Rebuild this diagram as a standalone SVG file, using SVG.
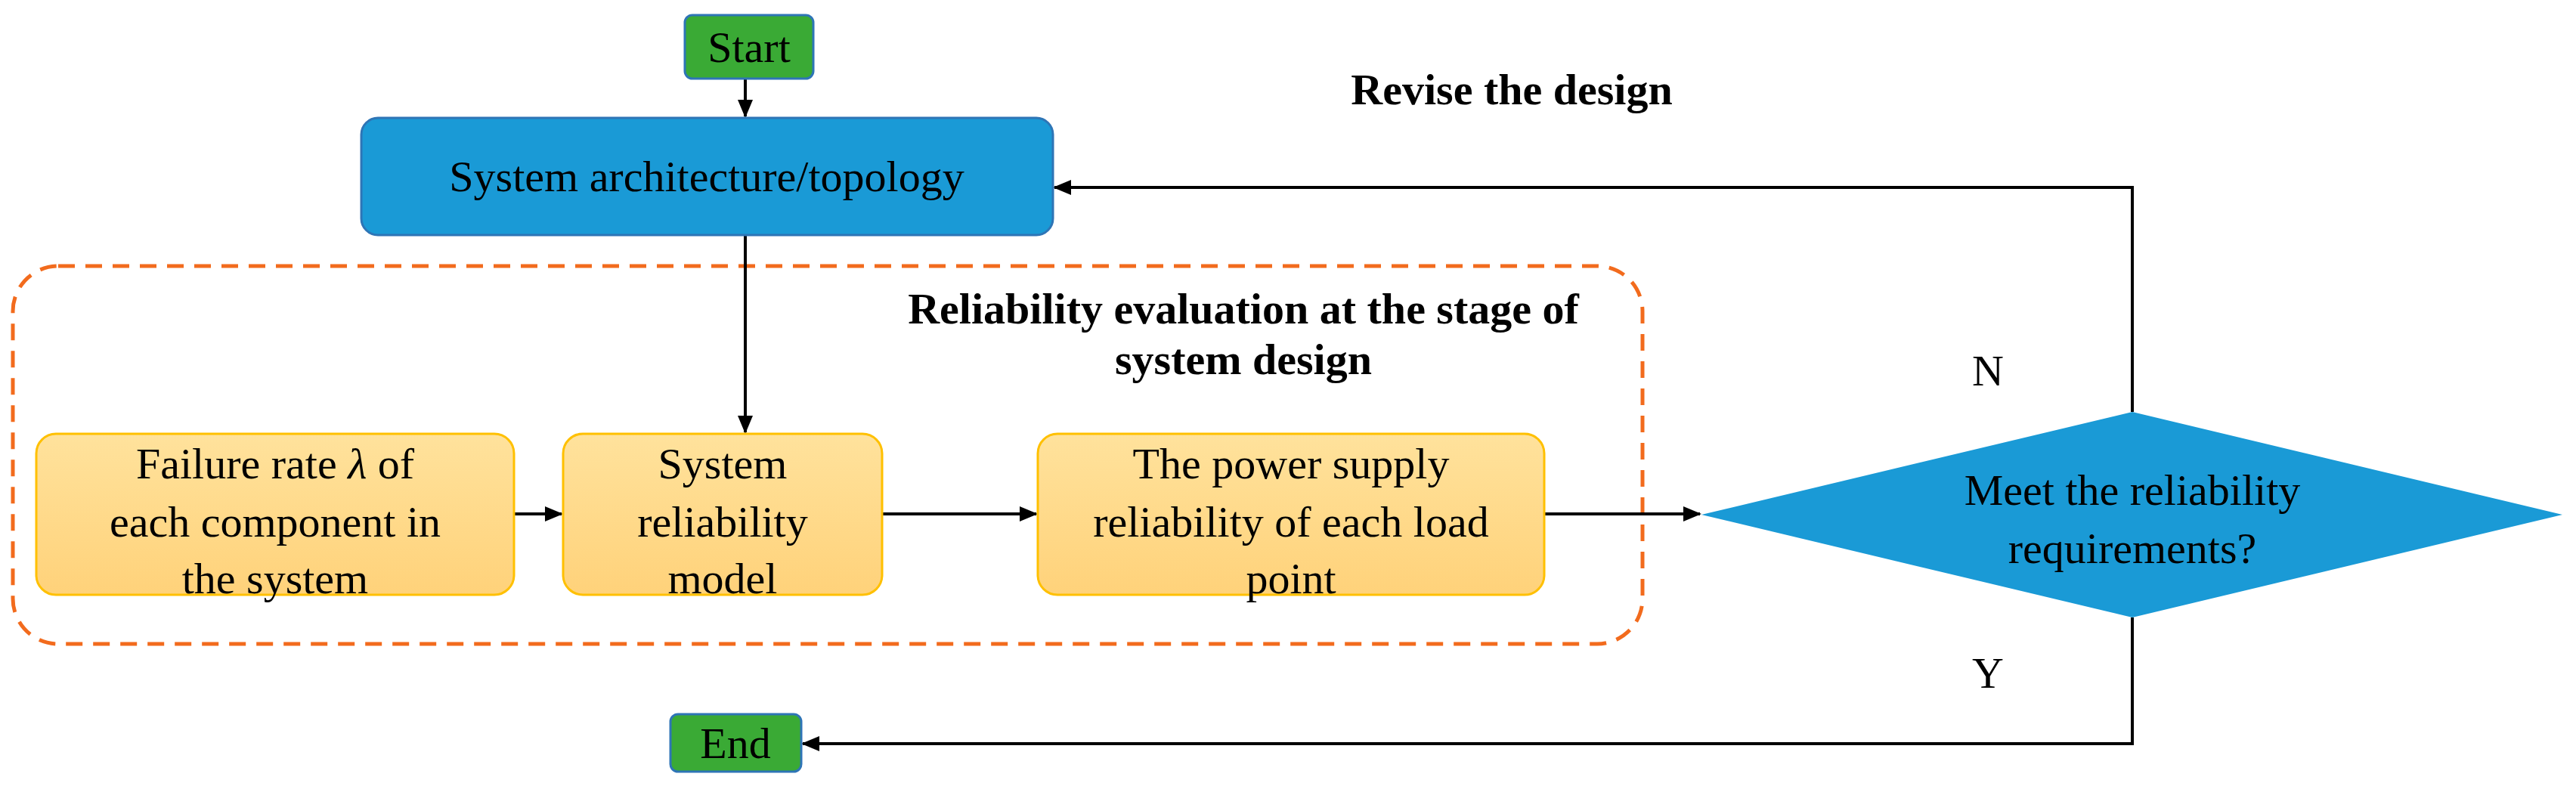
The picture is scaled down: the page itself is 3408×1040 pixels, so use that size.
<svg xmlns="http://www.w3.org/2000/svg" width="3408" height="1040" viewBox="0 0 3408 1040">
<style>
text{font-family:"Liberation Serif","Times New Roman",serif;font-size:58px;fill:#000;text-anchor:middle}
.b{font-weight:bold}
.y{fill:url(#yg);stroke:#FFC000;stroke-width:3}
.g{fill:#3AAA35;stroke:#2E75B6;stroke-width:3}
.c{fill:none;stroke:#000;stroke-width:4}
</style>
<defs>
<linearGradient id="yg" x1="0" y1="0" x2="0" y2="1"><stop offset="0" stop-color="#FFE29C"/><stop offset="1" stop-color="#FFD27A"/></linearGradient>
<marker id="a" viewBox="0 0 10 10" refX="10" refY="5" markerWidth="6" markerHeight="6" orient="auto" markerUnits="userSpaceOnUse" style="overflow:visible"><path d="M0,0L10,5L0,10Z" transform="scale(2.4) translate(-5.8,-3)"/></marker>
<marker id="m" viewBox="0 0 24 24" refX="22" refY="12" markerWidth="24" markerHeight="24" orient="auto" markerUnits="userSpaceOnUse"><path d="M0,2L24,12L0,22Z"/></marker>
</defs>
<rect x="17" y="352" width="2156" height="500" rx="60" fill="none" stroke="#F26B1D" stroke-width="5" stroke-dasharray="22,14"/>
<text class="b" x="1645" y="428">Reliability evaluation at the stage of</text>
<text class="b" x="1645" y="495">system design</text>
<g id="connectors">
<path class="c" d="M986,104V154" marker-end="url(#m)"/>
<path class="c" d="M986,311V572" marker-end="url(#m)"/>
<path class="c" d="M680,680H743" marker-end="url(#m)"/>
<path class="c" d="M1167,680H1371" marker-end="url(#m)"/>
<path class="c" d="M2043,680H2249" marker-end="url(#m)"/>
<path class="c" d="M2821,545V248H1395" marker-end="url(#m)"/>
<path class="c" d="M2821,817V984H1062" marker-end="url(#m)"/>
</g>
<text class="b" x="2000" y="138">Revise the design</text>
<text x="2630" y="510">N</text>
<text x="2630" y="910">Y</text>
<g id="start"><rect class="g" x="906" y="20" width="170" height="84" rx="10"/><text x="991" y="82">Start</text></g>
<g id="arch"><rect x="478" y="156" width="915" height="155" rx="22" fill="#1A9AD6" stroke="#2E75B6" stroke-width="3"/><text x="935" y="253">System architecture/topology</text></g>
<g id="failure"><rect class="y" x="48" y="574" width="632" height="213" rx="26"/><text x="364" y="633">Failure rate <tspan font-style="italic">λ</tspan> of</text><text x="364" y="710">each component in</text><text x="364" y="785">the system</text></g>
<g id="model"><rect class="y" x="745" y="574" width="422" height="213" rx="26"/><text x="956" y="633">System</text><text x="956" y="710">reliability</text><text x="956" y="785">model</text></g>
<g id="power"><rect class="y" x="1373" y="574" width="670" height="213" rx="26"/><text x="1708" y="633">The power supply</text><text x="1708" y="710">reliability of each load</text><text x="1708" y="785">point</text></g>
<g id="decision"><path d="M2251,681L2821,545L3390,681L2821,817Z" fill="#1A9AD6"/><text x="2821" y="668">Meet the reliability</text><text x="2821" y="745">requirements?</text></g>
<g id="end"><rect class="g" x="887" y="945" width="173" height="76" rx="10"/><text x="973" y="1003">End</text></g>
</svg>
